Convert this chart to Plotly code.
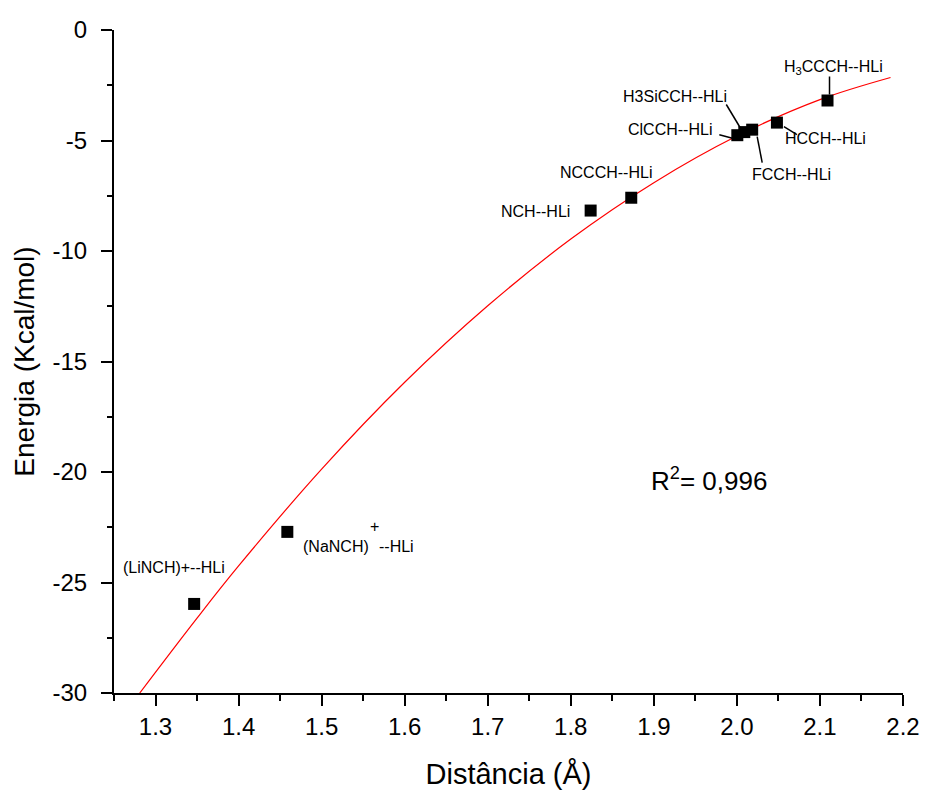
import plotly.graph_objects as go

# ---- data ----
labels = ["(LiNCH)+--HLi", "(NaNCH)+--HLi", "NCH--HLi", "NCCCH--HLi", "ClCCH--HLi",
          "H3SiCCH--HLi", "FCCH--HLi", "HCCH--HLi", "H3CCCH--HLi"]
dist = [1.3465, 1.4587, 1.8239, 1.8728, 2.0005, 2.0089, 2.0184, 2.0482, 2.1091]
energy = [-25.97, -22.71, -8.17, -7.59, -4.76, -4.62, -4.51, -4.19, -3.19]

fit_x = [1.281, 1.35, 1.40, 1.50, 1.60, 1.70, 1.80, 1.90, 2.00, 2.10, 2.185]
fit_y = [-30.0, -26.61, -24.25, -19.87, -15.94, -12.48, -9.46, -6.91, -4.80, -3.15, -2.15]

x_ticks = [1.3, 1.4, 1.5, 1.6, 1.7, 1.8, 1.9, 2.0, 2.1, 2.2]
x_ticktext = ["1.3", "1.4", "1.5", "1.6", "1.7", "1.8", "1.9", "2.0", "2.1", "2.2"]
y_ticks = [0, -5, -10, -15, -20, -25, -30]
y_ticktext = ["0", "-5", "-10", "-15", "-20", "-25", "-30"]

r2_text = "R<sup>2</sup>= 0,996"
r2_pos = (1.967, -20.36)

FONT = "Arial, 'Liberation Sans', sans-serif"

fig = go.Figure()
fig.add_trace(go.Scatter(x=fit_x, y=fit_y, mode="lines", line=dict(color="red", width=1.2, shape="spline"),
                         hoverinfo="skip", showlegend=False))
fig.add_trace(go.Scatter(x=dist, y=energy, mode="markers",
                         marker=dict(symbol="square", size=12, color="black"),
                         showlegend=False))

# label placement (pixel offsets from each point): text, xshift, yshift
label_layout = {
    "(LiNCH)+--HLi": [("(LiNCH)+--HLi", -20, 36)],
    "(NaNCH)+--HLi": [("(NaNCH)", 49, -15), ("+", 87, 5), ("--HLi", 109, -15)],
    "NCH--HLi": [("NCH--HLi", -55, -1)],
    "NCCCH--HLi": [("NCCCH--HLi", -25, 25)],
    "ClCCH--HLi": [("ClCCH--HLi", -67, 6)],
    "H3SiCCH--HLi": [("H3SiCCH--HLi", -69, 36)],
    "FCCH--HLi": [("FCCH--HLi", 39, -45)],
    "HCCH--HLi": [("HCCH--HLi", 49, -16)],
    "H3CCCH--HLi": [("H<sub>3</sub>CCCH--HLi", 6, 33)],
}
# leader lines: pixel offsets (x0, y0, x1, y1) relative to the point, y upward
leaders = {
    "ClCCH--HLi": (-18, 0.5, -3, -3.5),
    "H3SiCCH--HLi": (-18, 27.6, -3, 2.6),
    "FCCH--HLi": (5, -7, 10, -33),
    "HCCH--HLi": (7, -4, 20, -12),
    "H3CCCH--HLi": (2, 6, 2, 24),
}

for name, xv, yv in zip(labels, dist, energy):
    for txt, xs, ys in label_layout[name]:
        fig.add_annotation(x=xv, y=yv, xref="x", yref="y", text=txt, showarrow=False,
                           xshift=xs, yshift=ys, font=dict(family=FONT, size=16, color="black"))
    if name in leaders:
        x0, y0, x1, y1 = leaders[name]
        fig.add_shape(type="line", xref="x", yref="y",
                      xsizemode="pixel", ysizemode="pixel", xanchor=xv, yanchor=yv,
                      x0=x0, y0=y0, x1=x1, y1=y1,
                      line=dict(color="black", width=1.5))

fig.add_annotation(x=r2_pos[0], y=r2_pos[1], xref="x", yref="y", text=r2_text, showarrow=False,
                   font=dict(family=FONT, size=26, color="black"))

fig.update_layout(
    width=932, height=797,
    margin=dict(l=114, r=22, t=30, b=104),
    plot_bgcolor="white", paper_bgcolor="white",
    font=dict(family=FONT, color="black"),
)
fig.update_xaxes(
    range=[1.25, 2.2], showgrid=False, zeroline=False,
    showline=True, linecolor="black", linewidth=2,
    tickmode="array", tickvals=x_ticks, ticktext=x_ticktext,
    ticks="outside", ticklen=11, tickwidth=2, tickcolor="black",
    tickfont=dict(family=FONT, size=24, color="black"),
    ticklabelstandoff=0,
    minor=dict(ticks="outside", ticklen=6, tickwidth=2, tickcolor="black", dtick=0.05, tick0=1.25, showgrid=False),
    title=dict(text="Distância (Å)", font=dict(family=FONT, size=29, color="black"), standoff=25),
)
fig.update_yaxes(
    range=[-30, 0], showgrid=False, zeroline=False,
    showline=True, linecolor="black", linewidth=2,
    tickmode="array", tickvals=y_ticks, ticktext=y_ticktext,
    ticks="outside", ticklen=11, tickwidth=2, tickcolor="black",
    tickfont=dict(family=FONT, size=24, color="black"),
    ticklabelstandoff=9,
    minor=dict(ticks="outside", ticklen=5, tickwidth=2, tickcolor="black", dtick=2.5, tick0=0, showgrid=False),
    title=dict(text="Energia (Kcal/mol)", font=dict(family=FONT, size=28, color="black"), standoff=10),
)

fig.write_html("out.html")
